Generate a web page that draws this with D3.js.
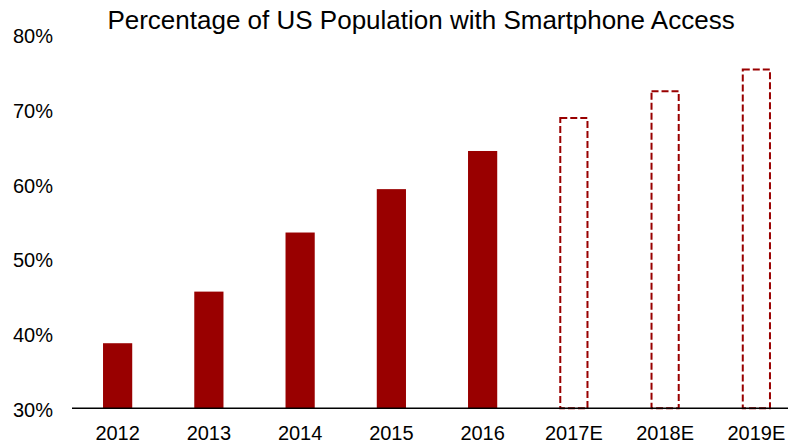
<!DOCTYPE html>
<html>
<head>
<meta charset="utf-8">
<script src="https://cdn.jsdelivr.net/npm/d3@7"></script>
<style>
  body { margin: 0; background: #fff; }
  text { font-family: "Liberation Sans", Arial, sans-serif; }
</style>
</head>
<body>
<script>
// Chart data
var years = ["2012", "2013", "2014", "2015", "2016", "2017E", "2018E", "2019E"];
var share = [38.7, 45.6, 53.5, 59.3, 64.4, 68.8, 72.4, 75.3];
var isEstimate = [false, false, false, false, false, true, true, true];
var yTicks = [30, 40, 50, 60, 70, 80];

var width = 788, height = 443;
var red = "#990000";

var svg = d3.select("body").append("svg")
    .attr("width", width)
    .attr("height", height);

var x = d3.scaleBand()
    .domain(years)
    .range([72, 802])
    .paddingInner(0.68)
    .paddingOuter(0.34);

var y = d3.scaleLinear()
    .domain([30, 80])
    .range([408.3, 34.3]);

var data = years.map((d, i) => ({ year: d, value: share[i], est: isEstimate[i] }));

// Title
svg.append("text")
    .attr("x", 421)
    .attr("y", 28.5)
    .attr("text-anchor", "middle")
    .attr("font-size", "26px")
    .attr("fill", "#000")
    .text("Percentage of US Population with Smartphone Access");

// Y tick labels (no axis line)
svg.append("g")
    .selectAll("text")
    .data(yTicks)
    .enter().append("text")
    .attr("x", 53)
    .attr("y", d => y(d) + 1.7)
    .attr("dy", "0.35em")
    .attr("text-anchor", "end")
    .attr("font-size", "20px")
    .attr("fill", "#000")
    .text(d => d + "%");

// Actual bars
svg.append("g")
    .selectAll("rect")
    .data(data.filter(d => !d.est))
    .enter().append("rect")
    .attr("x", d => x(d.year))
    .attr("y", d => y(d.value))
    .attr("width", x.bandwidth())
    .attr("height", d => y(30) - y(d.value))
    .attr("fill", red);

// Estimated bars, dashed outline
svg.append("g")
    .selectAll("rect")
    .data(data.filter(d => d.est))
    .enter().append("rect")
    .attr("x", d => x(d.year) + 1)
    .attr("y", d => y(d.value))
    .attr("width", x.bandwidth() - 2)
    .attr("height", d => y(30) - y(d.value))
    .attr("fill", "#fff")
    .attr("stroke", red)
    .attr("stroke-width", 2)
    .attr("stroke-dasharray", "7,3");

// X axis baseline
svg.append("line")
    .attr("x1", 72)
    .attr("x2", width)
    .attr("y1", y(30))
    .attr("y2", y(30))
    .attr("stroke", "#000")
    .attr("stroke-width", 1.5);

// X labels
svg.append("g")
    .selectAll("text")
    .data(years)
    .enter().append("text")
    .attr("x", d => x(d) + x.bandwidth() / 2)
    .attr("y", 433)
    .attr("dy", "0.35em")
    .attr("text-anchor", "middle")
    .attr("font-size", "20px")
    .attr("fill", "#000")
    .text(d => d);
</script>
</body>
</html>
